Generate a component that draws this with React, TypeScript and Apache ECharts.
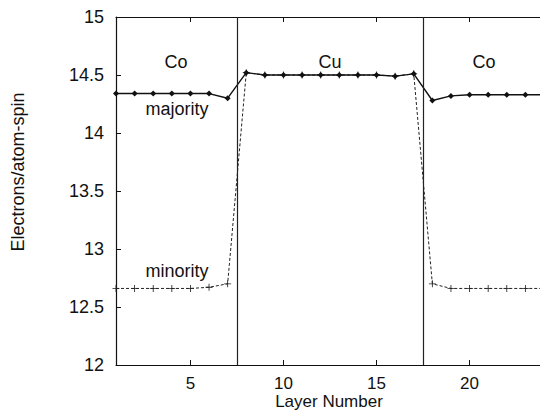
import React, { useEffect, useRef } from "react";
import * as echarts from "echarts";

// Layer index across the Co / Cu / Co stack
const layers = [1, 2, 3, 4, 5, 6, 7, 8, 9, 10, 11, 12, 13, 14, 15, 16, 17, 18, 19, 20, 21, 22, 23, 24];
// Electrons per atom per spin channel
const majority = [14.34, 14.34, 14.34, 14.34, 14.34, 14.34, 14.3, 14.52, 14.5, 14.5, 14.5, 14.5, 14.5, 14.5, 14.5, 14.49, 14.51, 14.28, 14.32, 14.33, 14.33, 14.33, 14.33, 14.33];
const minority = [12.66, 12.66, 12.66, 12.66, 12.66, 12.67, 12.7, 14.52, 14.5, 14.5, 14.5, 14.5, 14.5, 14.5, 14.5, 14.49, 14.51, 12.7, 12.66, 12.66, 12.66, 12.66, 12.66, 12.66];
// Interfaces between the Co and Cu layers
const interfaces = [7.5, 17.5];
const xTicks = [5, 10, 15, 20];
const regionLabels = ["Co", "Cu", "Co"];

const FONT = "Liberation Sans, Arial, sans-serif";
const PLUS = "path://M-0.12,-1H0.12V-0.12H1V0.12H0.12V1H-0.12V0.12H-1V-0.12H-0.12Z";

export default function App() {
  const ref = useRef<HTMLDivElement>(null);

  useEffect(() => {
    if (!ref.current) return;
    const chart = echarts.init(ref.current, null, { renderer: "svg" });
    const pair = (ys: number[]) => layers.map((x, i) => [x, ys[i]]);
    const textStyle = { fontFamily: FONT, fontSize: 18, fill: "#111", align: "center", verticalAlign: "middle" };
    chart.setOption({
      animation: false,
      backgroundColor: "#fff",
      grid: { left: 116, right: -4, top: 17, bottom: 48, containLabel: false, outerBoundsMode: "none" },
      xAxis: [
        {
          type: "value",
          min: 1,
          max: 24,
          axisLine: { show: true, lineStyle: { color: "#111", width: 1.2 } },
          axisTick: { show: true, inside: true, length: 5, customValues: xTicks, lineStyle: { color: "#111" } },
          axisLabel: { customValues: xTicks, fontFamily: FONT, fontSize: 17, lineHeight: 17, color: "#111", margin: 10 },
          splitLine: { show: false },
        },
        {
          type: "value",
          position: "top",
          min: 1,
          max: 24,
          axisLine: { show: true, lineStyle: { color: "#111", width: 1.2 } },
          axisTick: { show: true, inside: true, length: 5, customValues: xTicks, lineStyle: { color: "#111" } },
          axisLabel: { show: false },
          splitLine: { show: false },
        },
      ],
      yAxis: {
        type: "value",
        min: 12,
        max: 15,
        interval: 0.5,
        axisLine: { show: true, lineStyle: { color: "#111", width: 1.2 } },
        axisTick: { show: true, inside: true, length: 5, lineStyle: { color: "#111" } },
        axisLabel: { fontFamily: FONT, fontSize: 18, color: "#111", margin: 12 },
        splitLine: { show: false },
      },
      graphic: [
        {
          type: "text",
          x: 18,
          y: 172,
          rotation: Math.PI / 2,
          style: { ...textStyle, text: "Electrons/atom-spin" },
        },
        { type: "text", x: 329, y: 401, style: { ...textStyle, fontSize: 17, text: "Layer Number" } },
        { type: "text", x: 176, y: 62, style: { ...textStyle, text: regionLabels[0] } },
        { type: "text", x: 330, y: 62, style: { ...textStyle, text: regionLabels[1] } },
        { type: "text", x: 484, y: 62, style: { ...textStyle, text: regionLabels[2] } },
        { type: "text", x: 177, y: 109, style: { ...textStyle, text: "majority" } },
        { type: "text", x: 177, y: 271, style: { ...textStyle, text: "minority" } },
      ],
      series: [
        {
          name: "minority",
          type: "line",
          data: pair(minority),
          symbol: PLUS,
          symbolSize: 7,
          itemStyle: { color: "#222" },
          lineStyle: { color: "#222", width: 1, type: [3, 2] },
          z: 2,
          markLine: {
            silent: true,
            symbol: "none",
            label: { show: false },
            lineStyle: { color: "#222", width: 1.2, type: "solid" },
            data: interfaces.map((x) => ({ xAxis: x })),
          },
        },
        {
          name: "majority",
          type: "line",
          data: pair(majority),
          symbol: "diamond",
          symbolSize: 6,
          itemStyle: { color: "#111" },
          lineStyle: { color: "#111", width: 1.4 },
          z: 3,
        },
      ],
    });
    return () => chart.dispose();
  }, []);

  return (
    <div
      ref={ref}
      style={{ position: "absolute", left: 0, top: 0, width: 540, height: 413 }}
    />
  );
}
